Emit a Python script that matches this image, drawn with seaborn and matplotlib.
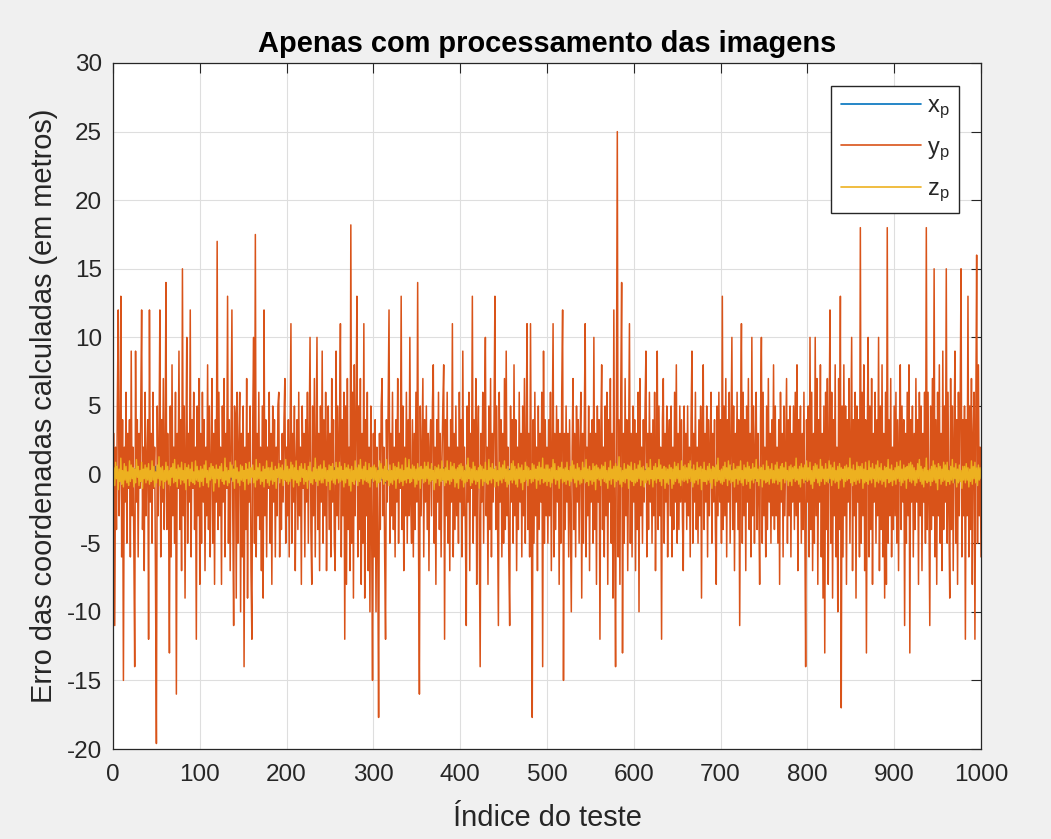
import numpy as np
import pandas as pd
import matplotlib
matplotlib.use("Agg")
import matplotlib.pyplot as plt
import seaborn as sns

# ---------------- data ----------------
title = "Apenas com processamento das imagens"
xlabel = "Índice do teste"
ylabel = "Erro das coordenadas calculadas (em metros)"
series_names = [r"$\mathregular{x_p}$", r"$\mathregular{y_p}$", r"$\mathregular{z_p}$"]
series_colors = ["#0072BD", "#D95319", "#EDB120"]
xticks = [0, 100, 200, 300, 400, 500, 600, 700, 800, 900, 1000]
yticks = [-20, -15, -10, -5, 0, 5, 10, 15, 20, 25, 30]

y_p = [
    3, -11, 2, -4, 5, 12, -3, 1, 13, -6, 4, -15, 2, -2, 6, -5, 3, -1, 4, -6,
    9, -3, 2, -5, -14, 9, -2, 4, -6, 3, -1, 5, 12, -4, 2, -7, 6, -3, 1, 4,
    -12, 12, -2, 3, -5, 6, -1, 2, -8, -19.6, 5, -3, 2, 12, -6, 4, -2, 7, -4, 1,
    14, -4, 3, -2, -13, 5, -6, 8, -3, 2, -5, 6, -16, 3, -1, 9, -4, 4, -7, 15,
    -3, 5, -9, 2, 10, -5, 3, -2, 12, -6, 4, -1, 6, -4, 2, -12, 5, -3, 7, -8,
    3, -5, 6, -2, 4, -7, 2, -3, 8, -4, 5, -6, 1, 7, -5, 3, -8, 4, -2, 17,
    -4, 6, -3, 2, -8, 5, -2, 7, -6, 3, -1, 13, -5, 4, -7, 2, 12, -3, -11, 5,
    4, -9, 6, -5, 2, 6, -10, 3, -6, 5, -14, 2, -4, 7, -9, 3, -2, 5, -7, -12,
    4, 10, -5, 17.5, -6, 3, -3, 6, -4, 2, -7, 5, -9, 12, -3, 4, -6, 2, -1, 6,
    -5, 3, -8, 5, -2, 4, -6, 2, -3, 5, 6, -6, 1, -4, 3, -2, 4, 7, -5, 2,
    -3, 4, -6, 2, 11, -5, 3, -2, 5, -7, 1, 4, -4, 6, -3, 2, -8, 5, -1, 3,
    -6, 4, -2, 6, -5, 3, 10, -4, -8, 5, -3, 7, -6, 2, 10, -4, 3, -7, 5, -2,
    9, -5, 4, -3, 6, -7, 2, 5, -4, 3, -6, 7, -2, 4, -5, -7, 9, -3, 5, -4,
    3, 11, -6, 4, -3, 6, -12, 5, -8, 7, -4, 2, -7, 18.2, -5, 6, -9, 8, -3, 4,
    13, -6, 5, -4, 7, -8, 3, -5, 11, -9, 4, -3, 6, -7, 2, -10, 5, -4, -15, 3,
    -6, 4, -10, 2, -5, -17.7, 3, -4, 5, 7, -3, 2, -6, -12, 4, -2, 5, 12, -5, 3,
    -3, 6, -4, 2, -6, 4, -2, 7, -5, 3, -1, 13, -4, 5, -7, 2, -3, 6, -5, 4,
    -3, 10, -2, -5, 4, -6, 3, -4, 6, -2, 14, -5, -16, 5, -3, 2, 7, -6, 4, -2,
    5, -4, 3, -7, 2, 4, -3, 5, 8, -5, 2, -8, 4, -2, 6, -4, 3, -6, 1, 5,
    8, -12, 4, -3, 6, -5, 2, -7, 4, -2, 11, -6, 3, -4, 5, -3, 2, -5, 6, -2,
    4, -6, 9, -3, 2, -4, -11, 5, -2, 6, -7, 3, -1, 13, -5, 4, -3, 7, -8, 2,
    5, -4, -14, 3, -2, 6, -5, 4, 10, -3, 2, -8, 5, -4, 7, -6, 3, -2, 4, 13,
    -4, 5, -3, -11, 6, -2, 4, -6, 3, -5, 7, -4, 9, -3, 2, -6, -11, 5, -2, 4,
    -5, 8, -3, 4, -7, 2, -4, 6, -2, 3, -6, 5, -3, 7, -5, 2, 11, -4, 3, -6,
    11, -2, -17.7, 4, -5, 6, -3, 2, -7, 5, -4, 3, -2, 6, -14, 9, -5, 4, -3, 2,
    -5, 4, -3, 6, -7, 2, 11, -6, 3, -4, 5, -2, 4, -8, 3, -5, 6, 12, -15, 3,
    -4, 5, -2, 3, -6, 4, -3, -10, 2, 7, -4, 3, -6, 5, -2, 4, -5, 2, 6, -9,
    3, -5, 4, 11, -6, 2, -3, 5, -7, 3, -2, 4, -5, 10, -4, 3, -8, 5, -2, 4,
    -12, 3, 8, -4, 2, -6, 5, -3, 6, -8, 4, -2, 7, -5, 3, -9, 12, -4, -14, 5,
    25, -6, 4, -8, 6, 14, -13, 3, -5, 7, -3, 4, -7, 2, 11, -5, 3, -6, 5, -2,
    4, -7, 3, -4, 6, -10, 7, -3, 2, -5, 4, -2, 5, 9, -6, 3, -4, 6, -2, 3,
    -5, 4, -3, 6, -7, 2, 9, -4, 5, -3, 2, -12, 4, 7, -5, 3, -2, 5, -6, 2,
    4, -3, 5, -6, 2, -4, 6, -2, 8, -5, 3, -4, 5, -2, 4, -3, -7, 5, -2, 3,
    -4, 5, -3, 2, -6, 4, 9, -5, 3, -2, 6, -4, 2, -5, 4, -3, 5, -9, 3, 8,
    -4, 3, -2, 5, -6, 4, -3, 2, 6, -5, 3, -2, 4, -4, -8, 5, -3, 6, -2, 4,
    -5, 13, -4, 5, -3, 7, -6, 4, -2, 6, -5, 3, 10, -4, 5, -7, 3, -2, 6, -4,
    4, -11, 3, 11, -5, 6, -3, 4, -7, 5, -2, 7, -4, 3, -6, 10, -3, 5, -5, 2,
    6, -4, 3, -2, -8, 4, 10, -5, 6, -3, 2, -6, 5, -4, 7, -2, 3, -5, 4, -3,
    8, -4, 5, -3, 2, -5, 4, -8, 6, -2, 3, -6, 5, -3, 2, 7, -5, 4, -3, 5,
    -6, 3, -2, 5, -4, 6, -3, 8, -7, 4, -2, 5, -5, 3, -4, 6, -3, -14, 4, -2,
    5, -6, 10, -4, 6, -7, 3, -5, 10, -3, 7, -8, 4, -2, 8, -6, 3, -9, 5, -13,
    6, -4, 7, -8, 3, 12, -5, 6, -9, 4, -3, 8, -6, 2, -10, 7, -4, 13, -17, 5,
    -6, 8, -3, 5, -8, 4, -2, 7, -5, 3, 10, -7, 4, -3, 6, -9, 5, -2, 4, -6,
    18, -5, 6, -3, 8, -7, 4, -13, 3, 10, -6, 5, -4, 7, -8, 3, -2, 6, -5, 4,
    -3, 10, -7, 5, -4, 8, -6, 3, -9, 6, -8, 18, -5, 4, -3, 7, -6, 2, -4, 5,
    -3, 6, -5, 4, -7, 3, 8, -4, 5, -2, 4, -11, 3, -5, 6, -3, 8, -13, 4, -2,
    5, -6, 3, -4, 7, -2, 4, -8, 6, -3, 5, -7, 3, -2, 6, -5, 18, -4, 6, -3,
    -11, 5, -4, 7, -3, 15, -6, 4, -8, 6, -3, 8, -5, 3, -7, 9, -4, 5, -2, 15,
    -5, 6, -3, -9, 7, -4, 5, -7, 3, 9, -5, 4, -8, 6, -3, 5, 15, -6, 4, -3,
    5, -12, 4, -3, 13, -6, 5, -4, 7, -8, 3, 6, -12, 4, 16, -5, 8, -3, 2, -6,
]

z_p = [
    .5, -.8, .9, -.3, .6, -1.1, .4, -.5, 1.2, -.7, .3, -.9, .8, -.4, .6, -.6, .2, -.8, 1.0, -.5,
    .7, -.3, .5, -.9, .4, -.6, 1.1, -.2, .6, -.8, .3, -.5, .9, -1.0, .4, -.3, .7, -.6, .5, -.4,
    .8, -.7, .3, -.5, 1.0, -.4, .6, -.9, .2, -.6, .7, -.3, 1.3, -.8, .5, -.4, .6, -1.0, .3, -.5,
    .9, -.4, .6, -.7, .3, -.8, .5, -.2, .8, -.6, 1.1, -.5, .4, -.9, .7, -.3, .5, -.7, .9, -.4,
    .3, -.6, .8, -1.1, .5, -.3, .7, -.8, .4, -.5, .9, -.6, .2, -.7, 1.0, -.4, .6, -.5, .3, -.9,
    .6, -.5, .4, -.8, .7, -.2, 1.0, -.6, .3, -.9, .5, -.4, .8, -.3, .6, -1.2, .4, -.6, .7, -.3,
    .4, -.9, .6, -.3, .8, -.5, .2, -.7, 1.2, -.4, .5, -.8, .3, -.6, .9, -.2, .7, -.5, .4, -1.0,
    1.0, -.3, .5, -.6, .2, -.8, .7, -.4, .6, -.5, .3, -1.1, .8, -.3, .4, -.7, .9, -.6, .5, -.2,
    .7, -.6, .3, -.9, 1.1, -.4, .5, -.3, .8, -.7, .2, -.5, .6, -.9, .4, -.3, 1.0, -.6, .5, -.8,
    .5, -.4, .9, -.7, .3, -.5, .6, -1.0, .4, -.2, .8, -.6, .5, -.3, .7, -.8, .3, -.4, 1.1, -.5,
    .6, -.7, .4, -.5, .9, -.3, .7, -.9, .5, -.4, 1.0, -.6, .3, -.8, .6, -.5, .8, -.2, .4, -.7,
    .8, -.5, .3, -1.0, .6, -.4, .9, -.6, .2, -.7, .5, -.3, 1.2, -.5, .4, -.8, .6, -.4, .7, -.6,
    .4, -.6, 1.0, -.3, .5, -.8, .3, -.5, .7, -1.1, .6, -.4, .8, -.6, .3, -.7, .9, -.3, .5, -.6,
    .9, -.5, .6, -.4, .3, -.9, .8, -.6, .5, -.3, .7, -.8, .4, -1.2, .6, -.5, .3, -.7, 1.0, -.4,
    .5, -.8, .7, -.5, 1.1, -.3, .4, -.7, .6, -.4, .9, -.5, .3, -.6, .8, -.9, .5, -.3, .6, -.5,
    .7, -.4, .5, -.9, .3, -.6, 1.0, -.5, .8, -.3, .4, -.7, .6, -.5, 1.1, -.4, .3, -.8, .7, -.6,
    .3, -.7, .8, -.4, .6, -1.0, .5, -.3, .9, -.6, .4, -.5, .7, -.8, .3, -.4, 1.2, -.6, .5, -.3,
    1.1, -.6, .4, -.5, .7, -.3, .6, -.9, .4, -.7, .8, -.4, .5, -1.0, .6, -.3, .4, -.6, .9, -.5,
    .6, -.3, .9, -.7, .4, -.5, .8, -.4, .3, -1.1, .6, -.6, .5, -.3, .7, -.8, .4, -.5, 1.0, -.4,
    .4, -.8, .5, -.6, 1.0, -.4, .3, -.7, .9, -.5, .6, -.3, .8, -.9, .4, -.6, .5, -1.0, .7, -.3,
    .8, -.4, .6, -.9, .3, -.6, .7, -.5, 1.2, -.3, .5, -.8, .4, -.6, .9, -.4, .6, -.7, .3, -.5,
    .5, -1.0, .7, -.3, .6, -.8, .4, -.5, .9, -.6, .3, -.7, 1.1, -.4, .5, -.6, .8, -.3, .4, -.9,
    .6, -.5, .3, -.8, .9, -.4, .5, -.6, .7, -.3, 1.0, -.5, .4, -.9, .6, -.7, .3, -.4, .8, -.6,
    1.0, -.4, .6, -.7, .4, -.9, .8, -.3, .5, -.6, .7, -1.1, .3, -.5, .9, -.4, .6, -.8, .5, -.3,
    .3, -.6, .8, -.5, .7, -.3, .4, -1.0, .6, -.4, .9, -.7, .5, -.3, 1.2, -.6, .4, -.5, .7, -.8,
    .7, -.5, .4, -.9, .5, -.6, 1.1, -.3, .8, -.7, .3, -.4, .6, -1.0, .5, -.3, .9, -.6, .4, -.5,
    .5, -.7, .9, -.4, .3, -.8, .6, -.5, 1.0, -.3, .7, -.6, .4, -.9, .8, -.4, .5, -.7, .3, -.6,
    .9, -.3, .5, -.6, 1.1, -.5, .4, -.8, .6, -.4, .3, -.7, .8, -.5, .6, -1.1, .7, -.3, .5, -.4,
    .4, -.8, .7, -.3, .6, -.5, .9, -.6, .3, -1.0, .5, -.4, 1.0, -.7, .4, -.3, .6, -.9, .8, -.5,
    .6, -.4, 1.3, -.7, .5, -.9, .3, -.5, .8, -.6, .4, -.3, .7, -1.0, .6, -.4, .9, -.5, .3, -.8,
    .8, -.6, .4, -.5, .7, -.3, 1.0, -.8, .5, -.4, .6, -.9, .3, -.6, .8, -.4, .5, -.7, 1.1, -.3,
    .3, -.9, .6, -.4, .8, -.6, .5, -.3, 1.1, -.5, .7, -.8, .4, -.3, .6, -1.0, .5, -.6, .4, -.7,
    .7, -.3, .5, -1.0, .4, -.7, .9, -.5, .6, -.3, .8, -.6, .3, -.8, 1.0, -.4, .6, -.5, .7, -.4,
    .5, -.6, .8, -.3, 1.0, -.5, .4, -.9, .7, -.6, .3, -.4, .9, -.7, .5, -.3, .6, -1.1, .4, -.5,
    .9, -.5, .3, -.7, .6, -.4, .8, -.6, .4, -1.0, .6, -.3, .5, -.8, .7, -.5, 1.2, -.4, .3, -.6,
    .4, -.7, .6, -.5, .9, -.3, .5, -.8, 1.0, -.4, .7, -.6, .3, -.5, .8, -.9, .4, -.3, .6, -.7,
    .6, -.4, 1.0, -.6, .3, -.8, .7, -.3, .5, -.7, .9, -.5, .6, -1.0, .4, -.4, .8, -.6, .5, -.3,
    1.1, -.5, .4, -.8, .6, -.3, .5, -.9, .7, -.4, .3, -.6, 1.0, -.5, .6, -.7, .4, -.3, .8, -.6,
    .3, -.6, .7, -.4, .9, -.7, .4, -.5, .6, -1.1, .8, -.3, .5, -.6, .9, -.4, .3, -.8, .6, -.5,
    .7, -.8, .5, -.3, .6, -.5, 1.2, -.4, .4, -.7, .6, -.9, .8, -.3, .5, -.6, .7, -.4, 1.0, -.5,
    .5, -.4, .9, -.7, .3, -1.0, .6, -.5, .8, -.3, .7, -.6, .4, -.8, 1.1, -.5, .6, -.3, .4, -.7,
    .8, -.5, .4, -.6, 1.0, -.3, .7, -.8, .5, -.4, .9, -.6, .3, -.5, .6, -1.0, .8, -.4, .5, -.3,
    .4, -.9, .6, -.5, .7, -.4, .5, -.3, 1.2, -.6, .4, -.8, .7, -.5, .3, -.7, .9, -.4, .6, -.6,
    .6, -.3, .8, -1.0, .4, -.6, .9, -.5, .3, -.7, 1.0, -.4, .5, -.6, .8, -.3, .4, -.9, .7, -.5,
    1.0, -.6, .5, -.4, .8, -.7, .3, -.5, .6, -.9, .5, -.3, 1.1, -.6, .4, -.5, .7, -.8, .3, -.4,
    .5, -.7, .9, -.3, .6, -.5, 1.0, -.8, .4, -.6, .7, -.4, .5, -1.0, .6, -.3, .8, -.5, .9, -.6,
    .7, -.4, .5, -.8, .3, -.6, .8, -.3, 1.1, -.5, .6, -.7, .4, -.9, .5, -.4, 1.2, -.6, .3, -.5,
    .4, -.8, .6, -.5, 1.0, -.4, .7, -.6, .5, -1.1, .8, -.3, .6, -.7, .4, -.5, .9, -.4, .7, -.8,
    .9, -.5, .3, -.7, .6, -.4, 1.1, -.6, .5, -.3, .8, -.9, .4, -.6, .7, -.5, .3, -1.0, .6, -.4,
    .6, -.6, .8, -.4, .5, -.9, .4, -.5, 1.0, -.7, .6, -.3, .9, -.6, .5, -.8, .7, -.4, .5, -.3,
]

x_p = [
    .3, -.2, .5, -.4, .1, -.3, .6, -.1, .2, -.5, .4, -.2, .3, -.6, .2, -.1, .5, -.3, .1, -.4,
    .2, -.5, .1, -.3, .4, -.2, .6, -.4, .3, -.1, .5, -.3, .2, -.6, .4, -.2, .1, -.5, .3, -.2,
    .5, -.1, .3, -.6, .2, -.4, .1, -.3, .6, -.2, .3, -.5, .1, -.2, .4, -.6, .2, -.1, .5, -.3,
    .1, -.4, .6, -.2, .3, -.5, .2, -.1, .4, -.3, .1, -.6, .5, -.2, .3, -.4, .6, -.1, .2, -.5,
    .4, -.3, .2, -.5, .6, -.1, .3, -.4, .2, -.6, .1, -.3, .5, -.2, .4, -.1, .3, -.5, .2, -.4,
    .6, -.2, .4, -.1, .3, -.5, .2, -.3, .5, -.4, .1, -.6, .3, -.2, .5, -.1, .4, -.3, .2, -.5,
    .2, -.4, .3, -.6, .1, -.2, .5, -.3, .4, -.1, .6, -.5, .2, -.3, .1, -.4, .3, -.2, .6, -.1,
    .5, -.3, .1, -.2, .4, -.6, .3, -.1, .2, -.4, .5, -.2, .6, -.3, .1, -.5, .2, -.4, .3, -.1,
    .3, -.6, .2, -.4, .5, -.1, .4, -.2, .1, -.3, .6, -.5, .2, -.1, .4, -.3, .5, -.6, .1, -.2,
    .1, -.2, .6, -.3, .2, -.4, .5, -.5, .3, -.1, .4, -.6, .2, -.3, .6, -.2, .1, -.4, .3, -.5,
    .4, -.5, .2, -.1, .3, -.6, .1, -.4, .5, -.2, .3, -.3, .6, -.1, .2, -.5, .4, -.2, .1, -.3,
    .6, -.1, .3, -.5, .4, -.2, .2, -.6, .1, -.3, .5, -.4, .3, -.2, .6, -.1, .2, -.5, .4, -.3,
    .2, -.3, .5, -.2, .1, -.5, .6, -.4, .3, -.1, .2, -.3, .4, -.6, .5, -.2, .1, -.4, .6, -.2,
    .5, -.4, .1, -.6, .3, -.2, .4, -.1, .6, -.5, .2, -.3, .1, -.4, .3, -.5, .6, -.2, .2, -.1,
    .3, -.1, .4, -.3, .6, -.5, .2, -.2, .5, -.4, .1, -.6, .3, -.1, .4, -.2, .5, -.3, .2, -.6,
    .1, -.5, .3, -.2, .5, -.1, .6, -.3, .2, -.4, .4, -.2, .5, -.6, .1, -.3, .3, -.1, .6, -.4,
    .4, -.2, .6, -.4, .2, -.3, .1, -.5, .4, -.6, .3, -.1, .2, -.4, .5, -.2, .6, -.3, .1, -.5,
    .6, -.3, .2, -.1, .4, -.6, .5, -.2, .1, -.3, .6, -.4, .3, -.5, .2, -.1, .4, -.6, .3, -.2,
    .2, -.6, .5, -.3, .1, -.2, .3, -.4, .6, -.1, .2, -.5, .4, -.3, .1, -.6, .5, -.2, .3, -.4,
    .5, -.1, .3, -.4, .6, -.5, .2, -.3, .4, -.2, .1, -.6, .5, -.1, .3, -.4, .2, -.5, .6, -.3,
    .1, -.4, .4, -.6, .3, -.2, .5, -.1, .2, -.5, .6, -.3, .1, -.2, .4, -.6, .3, -.4, .5, -.1,
    .3, -.5, .6, -.1, .2, -.4, .1, -.3, .5, -.6, .4, -.2, .3, -.5, .6, -.1, .2, -.3, .4, -.2,
    .6, -.2, .1, -.5, .4, -.3, .3, -.6, .2, -.1, .5, -.4, .6, -.2, .1, -.3, .4, -.5, .2, -.6,
    .2, -.3, .5, -.4, .1, -.6, .4, -.2, .6, -.3, .3, -.1, .2, -.5, .5, -.4, .1, -.2, .3, -.6,
    .4, -.6, .2, -.3, .5, -.1, .3, -.5, .1, -.4, .6, -.2, .4, -.3, .2, -.6, .5, -.1, .3, -.4,
    .5, -.2, .3, -.6, .2, -.4, .6, -.1, .4, -.5, .1, -.3, .5, -.2, .3, -.6, .2, -.4, .6, -.1,
    .1, -.3, .6, -.2, .4, -.5, .2, -.4, .3, -.1, .5, -.6, .2, -.3, .6, -.2, .4, -.1, .1, -.5,
    .3, -.6, .4, -.1, .5, -.2, .1, -.5, .6, -.3, .2, -.4, .3, -.1, .5, -.6, .4, -.3, .2, -.2,
    .6, -.4, .2, -.5, .3, -.1, .5, -.3, .2, -.6, .4, -.2, .1, -.4, .6, -.3, .3, -.5, .1, -.2,
    .2, -.1, .5, -.3, .6, -.4, .3, -.2, .1, -.5, .4, -.6, .5, -.1, .2, -.3, .6, -.4, .4, -.5,
    .4, -.5, .1, -.2, .3, -.6, .6, -.3, .5, -.1, .2, -.4, .4, -.5, .1, -.2, .3, -.6, .5, -.3,
    .5, -.3, .6, -.4, .2, -.2, .4, -.6, .1, -.3, .5, -.1, .3, -.4, .6, -.5, .2, -.2, .4, -.1,
    .1, -.6, .3, -.2, .5, -.4, .2, -.1, .6, -.5, .3, -.3, .1, -.6, .4, -.2, .5, -.4, .2, -.3,
    .3, -.2, .4, -.5, .1, -.3, .6, -.4, .3, -.2, .5, -.6, .2, -.1, .4, -.5, .1, -.3, .6, -.4,
    .6, -.5, .2, -.1, .4, -.6, .3, -.3, .2, -.4, .6, -.2, .5, -.3, .1, -.4, .3, -.6, .2, -.1,
    .2, -.4, .5, -.6, .3, -.1, .1, -.5, .4, -.2, .2, -.3, .6, -.5, .3, -.1, .5, -.2, .4, -.6,
    .4, -.1, .3, -.3, .6, -.5, .2, -.2, .5, -.6, .1, -.4, .3, -.2, .5, -.3, .2, -.6, .1, -.4,
    .5, -.6, .1, -.4, .2, -.3, .5, -.1, .3, -.5, .6, -.2, .4, -.6, .2, -.1, .6, -.3, .3, -.5,
    .1, -.2, .6, -.5, .4, -.2, .3, -.6, .1, -.3, .4, -.5, .2, -.4, .6, -.1, .3, -.2, .5, -.6,
    .3, -.5, .2, -.1, .5, -.4, .6, -.3, .2, -.6, .3, -.1, .5, -.2, .1, -.4, .4, -.5, .2, -.3,
    .6, -.3, .4, -.6, .1, -.2, .3, -.4, .6, -.1, .2, -.5, .1, -.3, .4, -.6, .5, -.1, .3, -.2,
    .2, -.5, .3, -.2, .6, -.6, .1, -.3, .4, -.4, .5, -.2, .3, -.1, .6, -.5, .2, -.4, .1, -.3,
    .4, -.3, .5, -.1, .2, -.4, .6, -.6, .3, -.2, .1, -.5, .6, -.3, .2, -.1, .4, -.6, .5, -.2,
    .5, -.4, .1, -.6, .3, -.3, .2, -.1, .5, -.5, .4, -.2, .2, -.6, .3, -.4, .1, -.2, .6, -.5,
    .1, -.1, .6, -.3, .5, -.2, .4, -.5, .2, -.6, .3, -.4, .5, -.1, .4, -.3, .6, -.5, .1, -.2,
    .3, -.6, .2, -.4, .4, -.5, .1, -.2, .6, -.3, .5, -.1, .2, -.4, .3, -.6, .4, -.2, .5, -.3,
    .6, -.2, .5, -.5, .1, -.1, .3, -.6, .2, -.4, .6, -.3, .1, -.5, .5, -.2, .3, -.4, .2, -.6,
    .2, -.4, .3, -.1, .6, -.6, .4, -.3, .1, -.2, .5, -.5, .4, -.1, .2, -.3, .6, -.6, .3, -.4,
    .4, -.5, .6, -.2, .3, -.4, .2, -.1, .5, -.6, .1, -.3, .6, -.4, .2, -.5, .1, -.1, .4, -.3,
    .5, -.1, .2, -.6, .4, -.3, .5, -.5, .3, -.2, .6, -.4, .2, -.6, .5, -.1, .3, -.3, .1, -.5,
]

# ---------------- figure ----------------
sns.set_theme(style="white")
plt.rcParams['font.family'] = ['Liberation Sans', 'DejaVu Sans']
plt.rcParams['mathtext.fontset'] = 'custom'
plt.rcParams['mathtext.rm'] = 'Liberation Sans'
plt.rcParams['mathtext.it'] = 'Liberation Sans:italic'
plt.rcParams['mathtext.bf'] = 'Liberation Sans:bold'

W, H = 1051, 839
fig = plt.figure(figsize=(W / 100, H / 100), dpi=100, facecolor='#F0F0F0')
ax = fig.add_axes([113 / W, 1 - 749 / H, 868 / W, 686 / H])
ax.set_facecolor('white')

frames = []
for name, vals in zip(series_names, [x_p, y_p, z_p]):
    frames.append(pd.DataFrame({"idx": np.arange(1, len(vals) + 1),
                                "val": np.asarray(vals, dtype=float),
                                "serie": name}))
df = pd.concat(frames, ignore_index=True)

widths = [1.0, 1.1, 1.0]
for name, col, lw in zip(series_names, series_colors, widths):
    sub = df[df["serie"] == name]
    sns.lineplot(data=sub, x="idx", y="val", ax=ax, color=col, linewidth=lw,
                 estimator=None, sort=False, label=name)

ax.set_xlim(0, 1000)
ax.set_ylim(-20, 30)
ax.set_xticks(xticks)
ax.set_yticks(yticks)
ax.set_xticklabels([str(t) for t in xticks])
ax.set_yticklabels([str(t) for t in yticks])
ax.grid(True, color='#DEDEDE', linewidth=0.8)
ax.set_axisbelow(True)
for sp in ax.spines.values():
    sp.set_visible(True)
    sp.set_color('#262626')
    sp.set_linewidth(0.9)
ax.tick_params(axis='both', which='major', direction='in', length=7, width=0.8,
               color='#262626', labelcolor='#262626', labelsize=17.5,
               top=True, right=True)
ax.tick_params(axis='x', pad=11)
ax.tick_params(axis='y', pad=8)

ax.set_title(title, fontsize=20.9, fontweight='bold', color='black', pad=8)
ax.set_xlabel(xlabel, fontsize=20.9, color='#262626', labelpad=13)
ax.set_ylabel(ylabel, fontsize=20.9, color='#262626', labelpad=6)

leg = ax.legend(loc='upper right', bbox_to_anchor=(959 / W, 1 - 86 / H),
                bbox_transform=fig.transFigure, borderaxespad=0,
                fontsize=17, handlelength=3.4, handletextpad=0.25,
                labelspacing=0.65, borderpad=0.4, fancybox=False,
                framealpha=1, edgecolor='#262626')
leg.get_frame().set_linewidth(1.0)
for line in leg.get_lines():
    line.set_linewidth(1.2)

fig.savefig("out.png", dpi=100, facecolor=fig.get_facecolor())
